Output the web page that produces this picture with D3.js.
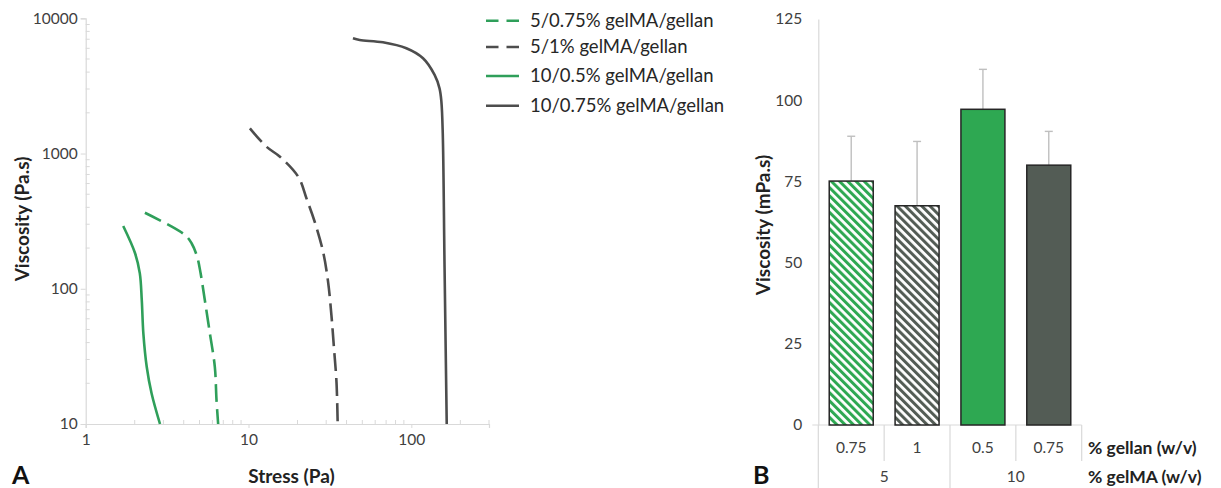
<!DOCTYPE html>
<html><head><meta charset="utf-8">
<script src="https://cdn.jsdelivr.net/npm/d3@7"></script>
<style>
body{margin:0;background:#fff}
svg{display:block}
text{font-family:Lato,"Open Sans",sans-serif}
</style>
</head><body>
<svg id="chart" width="1221" height="488"></svg>
<script>
// ---------------- Panel A data (stress in Pa, viscosity in Pa.s) ----------------
const seriesNames = ["5/0.75% gelMA/gellan", "5/1% gelMA/gellan", "10/0.5% gelMA/gellan", "10/0.75% gelMA/gellan"];
const stress_5_075 = [2.31, 4.07, 4.47, 4.84, 5.08, 5.39, 5.79, 6.21, 6.36, 6.51];
const visc_5_075   = [365, 250, 217, 172, 130, 82.5, 46.8, 26.5, 15.0, 10];
const stress_5_1   = [10.2, 12.9, 15.6, 20.2, 22.7, 25.5, 28.7, 30.8, 32.3, 33.5, 34.7, 35.3];
const visc_5_1     = [1536, 1122, 947, 674, 466, 313, 188, 113, 63.9, 36.3, 20.5, 10];
const stress_10_05 = [1.70, 2.01, 2.15, 2.21, 2.26, 2.37, 2.54, 2.86];
const visc_10_05   = [291, 183, 130, 82.5, 46.8, 26.5, 16.8, 10];
const stress_10_075 = [43.8, 48.2, 66.9, 93.2, 118, 139, 149, 153, 156, 160, 165];
const visc_10_075   = [7115, 6910, 6645, 6000, 5060, 3810, 3035, 2417, 1410, 145, 10];
const xTicksA = [1, 10, 100];
const yTicksA = [10, 100, 1000, 10000];

// ---------------- Panel B data (viscosity in mPa.s) ----------------
const gellanLabels = ["0.75", "1", "0.5", "0.75"];
const gelmaLabels = ["5", "10"];
const barMeans  = [75.1, 67.5, 97.2, 80.0];
const barErrors = [13.8, 19.8, 12.3, 10.4];
const yTicksB = [0, 25, 50, 75, 100, 125];

// ---------------- styles ----------------
const GREEN_LINE = "#2f9f5a", GRAY_LINE = "#4d4d4d";
const GREEN_BAR = "#2ea852", GRAY_BAR = "#535c55";
const AXIS = "#d9d9d9", TXT = "#404040";

const svg = d3.select("#chart");
const defs = svg.append("defs");
function hatch(id, color) {
  const p = defs.append("pattern").attr("id", id).attr("patternUnits", "userSpaceOnUse")
    .attr("width", 5.8).attr("height", 10).attr("patternTransform", "rotate(-45)");
  p.append("rect").attr("width", 5.8).attr("height", 10).attr("fill", "#fff");
  p.append("rect").attr("width", 3.0).attr("height", 10).attr("fill", color);
}
hatch("hG", GREEN_BAR);
hatch("hK", GRAY_BAR);

// ================= Panel A =================
const xA = d3.scaleLog().domain([1, 300]).range([85.7, 489]);
const yA = d3.scaleLog().domain([10, 10000]).range([424, 18.3]);
const gA = svg.append("g");

const minorY = [], minorX = [];
[10, 100, 1000].forEach(d => { for (let k = 2; k <= 9; k++) minorY.push(d * k); });
[1, 10, 100].forEach(d => { for (let k = 2; k <= 9; k++) if (d * k <= 300) minorX.push(d * k); });

const yAxisA = gA.append("g").attr("transform", `translate(${xA(1)},0)`)
  .call(d3.axisLeft(yA).tickValues(yTicksA).tickFormat(d3.format("d")).tickSize(5).tickPadding(3));
yAxisA.append("g").selectAll("line").data(minorY).join("line")
  .attr("x1", 0).attr("x2", 4).attr("y1", d => yA(d)).attr("y2", d => yA(d));
const xAxisA = gA.append("g").attr("transform", `translate(0,${yA(10)})`)
  .call(d3.axisBottom(xA).tickValues(xTicksA).tickFormat(d3.format("d")).tickSize(4).tickPadding(6));
xAxisA.append("g").selectAll("line").data(minorX).join("line")
  .attr("x1", d => xA(d)).attr("x2", d => xA(d)).attr("y1", 0).attr("y2", -4);
[yAxisA, xAxisA].forEach(a => {
  a.selectAll("path.domain").attr("stroke", AXIS).attr("stroke-width", 1.2);
  a.selectAll("line").attr("stroke", AXIS);
  a.selectAll("text").attr("fill", TXT).style("font-size", "15.5px").style("font-family", "Lato");
});

const seriesA = [
  { name: seriesNames[0], xs: stress_5_075, ys: visc_5_075, color: GREEN_LINE, dash: "18,7" },
  { name: seriesNames[1], xs: stress_5_1, ys: visc_5_1, color: GRAY_LINE, dash: "18,7" },
  { name: seriesNames[2], xs: stress_10_05, ys: visc_10_05, color: GREEN_LINE, dash: null },
  { name: seriesNames[3], xs: stress_10_075, ys: visc_10_075, color: GRAY_LINE, dash: null }
];
const lineA = d3.line().x(d => xA(d[0])).y(d => yA(d[1])).curve(d3.curveCatmullRom.alpha(0.5));
seriesA.forEach(s => {
  gA.append("path").datum(s.xs.map((x, i) => [x, s.ys[i]]))
    .attr("d", lineA).attr("fill", "none").attr("stroke", s.color)
    .attr("stroke-width", 2.6).attr("stroke-dasharray", s.dash).attr("stroke-linecap", "butt");
});

// axis titles
gA.append("text").attr("transform", "translate(28.5,219) rotate(-90)").attr("text-anchor", "middle")
  .attr("font-weight", "bold").attr("font-size", 19).attr("fill", "#222").text("Viscosity (Pa.s)");
gA.append("text").attr("x", 291.5).attr("y", 483).attr("text-anchor", "middle")
  .attr("font-weight", "bold").attr("font-size", 19).attr("fill", "#222").text("Stress (Pa)");
svg.append("text").attr("x", 12).attr("y", 484).attr("font-weight", "bold").attr("font-size", 25)
  .attr("fill", "#111").text("A");

// legend
const legY = [20.7, 47, 76, 105.7];
const leg = svg.append("g");
seriesA.forEach((s, i) => {
  leg.append("line").attr("x1", 486).attr("x2", 519).attr("y1", legY[i]).attr("y2", legY[i])
    .attr("stroke", s.color).attr("stroke-width", 2.6).attr("stroke-dasharray", s.dash ? "12.5,8" : null);
  leg.append("text").attr("x", 530).attr("y", legY[i]).attr("dy", "0.35em")
    .attr("font-size", 18.5).attr("fill", "#262626").text(s.name);
});

// ================= Panel B =================
const xB = d3.scaleBand().domain(d3.range(barMeans.length)).range([818.3, 1081.7])
  .paddingInner(0.332).paddingOuter(0.166);
const yB = d3.scaleLinear().domain([0, 125]).range([425, 19]);
const gB = svg.append("g");

const yAxisB = gB.append("g").attr("transform", `translate(818.3,0)`)
  .call(d3.axisLeft(yB).tickValues(yTicksB).tickSize(0).tickPadding(16));
yAxisB.select("path.domain").attr("stroke", AXIS).attr("stroke-width", 1.2);
yAxisB.selectAll("text").attr("fill", TXT).style("font-size", "15.5px").style("font-family", "Lato");

const step = xB.step();
const x0 = 818.3;
gB.append("line").attr("x1", x0 - 6).attr("x2", x0 + step * 4).attr("y1", yB(0)).attr("y2", yB(0))
  .attr("stroke", AXIS).attr("stroke-width", 1.2);
gB.append("line").attr("x1", x0).attr("x2", x0).attr("y1", yB(0)).attr("y2", 488)
  .attr("stroke", AXIS).attr("stroke-width", 1.2);
d3.range(1, 5).forEach(k => {
  gB.append("line").attr("x1", x0 + step * k).attr("x2", x0 + step * k)
    .attr("y1", yB(0)).attr("y2", k === 2 ? 488 : 461).attr("stroke", AXIS).attr("stroke-width", 1.2);
});

const fills = ["url(#hG)", "url(#hK)", GREEN_BAR, GRAY_BAR];
barMeans.forEach((m, i) => {
  const cx = xB(i) + xB.bandwidth() / 2;
  gB.append("line").attr("x1", cx).attr("x2", cx).attr("y1", yB(m)).attr("y2", yB(m + barErrors[i]))
    .attr("stroke", "#bfbfbf").attr("stroke-width", 1.4);
  gB.append("line").attr("x1", cx - 4).attr("x2", cx + 4).attr("y1", yB(m + barErrors[i])).attr("y2", yB(m + barErrors[i]))
    .attr("stroke", "#bfbfbf").attr("stroke-width", 1.4);
});
gB.selectAll("rect.bar").data(barMeans).join("rect").attr("class", "bar")
  .attr("x", (d, i) => xB(i)).attr("width", xB.bandwidth())
  .attr("y", d => yB(d)).attr("height", d => yB(0) - yB(d))
  .attr("fill", (d, i) => fills[i]).attr("stroke", "#262626").attr("stroke-width", 1.5);

gellanLabels.forEach((t, i) => {
  gB.append("text").attr("x", xB(i) + xB.bandwidth() / 2).attr("y", 448).attr("dy", "0.35em")
    .attr("text-anchor", "middle").attr("font-size", 15.5).attr("fill", TXT).text(t);
});
gelmaLabels.forEach((t, j) => {
  gB.append("text").attr("x", x0 + step * (2 * j + 1)).attr("y", 477).attr("dy", "0.35em")
    .attr("text-anchor", "middle").attr("font-size", 15.5).attr("fill", TXT).text(t);
});
gB.append("text").attr("x", 1088).attr("y", 448).attr("dy", "0.35em").attr("font-size", 17.5)
  .attr("font-weight", "bold").attr("fill", "#222").text("% gellan (w/v)");
gB.append("text").attr("x", 1088).attr("y", 477).attr("dy", "0.35em").attr("font-size", 17.5)
  .attr("font-weight", "bold").attr("fill", "#222").text("% gelMA (w/v)");

gB.append("text").attr("transform", "translate(770,225) rotate(-90)").attr("text-anchor", "middle")
  .attr("font-weight", "bold").attr("font-size", 19).attr("fill", "#222").text("Viscosity (mPa.s)");
svg.append("text").attr("x", 753).attr("y", 484).attr("font-weight", "bold").attr("font-size", 25)
  .attr("fill", "#111").text("B");
</script>
</body></html>
